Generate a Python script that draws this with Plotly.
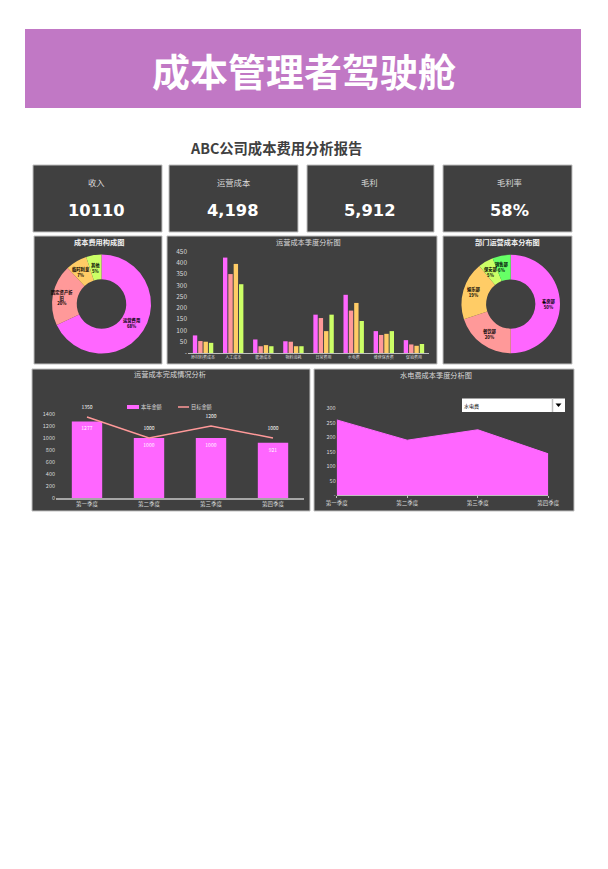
import plotly.graph_objects as go

W = 608
H = 869

FONT = 'Noto Sans CJK SC'
PINK = '#FF66FF'
ROSE = '#FF9999'
ORANGE = '#FFCC66'
LIME = '#CCFF66'
GREEN = '#66FF66'
PANEL = '#404040'

# KPI
kpi_labels = ['收入', '运营成本', '毛利', '毛利率']
kpi_values = ['10110', '4,198', '5,912', '58%']

# 环形图
cost_names = ['运营费用', '固定资产折<br>旧', '临时利息', '其他']
cost_values = [68, 20, 7, 5]
dept_names = ['客房部', '餐饮部', '娱乐部', '保安部', '销售部']
dept_values = [50, 20, 19, 5, 6]

# 季度柱状图
items = ['原材料费成本', '人工成本', '能源成本', '物料消耗', '日常费用', '水电费', '维修保养费', '促销费用']
q1 = [78, 423, 60, 52, 170, 258, 97, 57]
q2 = [53, 350, 30, 50, 155, 188, 80, 38]
q3 = [50, 395, 35, 30, 97, 222, 85, 32]
q4 = [45, 305, 30, 30, 170, 142, 97, 40]
bar_ticks = [0, 50, 100, 150, 200, 250, 300, 350, 400, 450]
bar_ticktext = ['-', '50', '100', '150', '200', '250', '300', '350', '400', '450']

# 完成情况
quarters = ['第一季度', '第二季度', '第三季度', '第四季度']
actual = [1277, 1000, 1000, 921]
target = [1350, 1000, 1200, 1000]
combo_ticks = [0, 200, 400, 600, 800, 1000, 1200, 1400]

# 水电费
water = [260, 190, 226, 143]
water_ticks = [0, 50, 100, 150, 200, 250, 300]
water_ticktext = ['-', '50', '100', '150', '200', '250', '300']


def fx(x):
    return x / W


def fy(y):
    return 1 - y / H


def panel(x0, y0, x1, y1, color=PANEL, line='#BFBFBF', width=1):
    return dict(type='rect', xref='paper', yref='paper', x0=fx(x0), x1=fx(x1), y0=fy(y0), y1=fy(y1),
                fillcolor=color, line=dict(color=line, width=width), layer='below')


def label(x, y, text, size, color='#D9D9D9', family=FONT):
    return dict(xref='paper', yref='paper', x=fx(x), y=fy(y), text=text, showarrow=False,
                xanchor='center', yanchor='middle', font=dict(family=family, size=size, color=color))


def donut(names, values, colors, x0, y0, x1, y1):
    return go.Pie(labels=names, values=values, hole=0.5, sort=False, direction='clockwise', rotation=0,
                  domain=dict(x=[fx(x0), fx(x1)], y=[fy(y1), fy(y0)]),
                  marker=dict(colors=colors, line=dict(width=0)),
                  textinfo='none', showlegend=False)


fig = go.Figure()

fig.add_trace(donut(cost_names, cost_values, [PINK, ROSE, ORANGE, LIME], 52, 254.5, 151, 353.5))
fig.add_trace(donut(dept_names, dept_values, [PINK, ROSE, ORANGE, LIME, GREEN], 461.5, 254.5, 560, 353.5))

for vals, col in zip([q1, q2, q3, q4], [PINK, ROSE, ORANGE, LIME]):
    fig.add_trace(go.Bar(x=items, y=vals, marker=dict(color=col, line=dict(width=0)), showlegend=False,
                         xaxis='x', yaxis='y'))

fig.add_trace(go.Bar(x=quarters, y=actual, name='本年金额', marker=dict(color=PINK, line=dict(width=0)),
                     width=0.49, text=actual, textposition='inside', insidetextanchor='end', showlegend=False,
                     textfont=dict(family=FONT, size=5, color='#FFFFFF'), xaxis='x2', yaxis='y2'))
fig.add_trace(go.Scatter(x=quarters, y=target, name='目标金额', mode='lines+text', line=dict(color=ROSE, width=1.5),
                         text=target, texttemplate='%{text}<br> ', textposition='top center', cliponaxis=False,
                         showlegend=False, textfont=dict(family=FONT, size=5, color='#FFFFFF'),
                         xaxis='x2', yaxis='y2'))

fig.add_trace(go.Scatter(x=quarters, y=water, mode='lines', fill='tozeroy', fillcolor=PINK,
                         line=dict(color=PINK, width=1), showlegend=False, xaxis='x3', yaxis='y3'))

shapes = [
    panel(25, 29, 581, 108, '#C178C5', '#C178C5', 0),
    panel(33, 165, 162, 232),
    panel(169, 165, 298, 232),
    panel(307, 165, 434, 232),
    panel(443, 165, 572, 232),
    panel(34, 236, 162, 364),
    panel(167, 236, 437, 364),
    panel(443, 236, 572, 364),
    panel(32, 369, 310, 511),
    panel(314, 369, 574, 511),
    # 图例
    dict(type='rect', xref='paper', yref='paper', x0=fx(127), x1=fx(139), y0=fy(405), y1=fy(409),
         fillcolor=PINK, line=dict(width=0), layer='above'),
    dict(type='line', xref='paper', yref='paper', x0=fx(178), x1=fx(189), y0=fy(407), y1=fy(407),
         line=dict(color=ROSE, width=1.5), layer='above'),
    # 下拉框
    dict(type='rect', xref='paper', yref='paper', x0=fx(462), x1=fx(565), y0=fy(398.5), y1=fy(412),
         fillcolor='#FFFFFF', line=dict(width=0), layer='above'),
    dict(type='line', xref='paper', yref='paper', x0=fx(552.5), x1=fx(552.5), y0=fy(398.5), y1=fy(412),
         line=dict(color='#BFBFBF', width=1.5), layer='above'),
    dict(type='path', xref='paper', yref='paper',
         path=f'M {fx(555.5)} {fy(403.5)} L {fx(561.5)} {fy(403.5)} L {fx(558.5)} {fy(407)} Z',
         fillcolor='#000000', line=dict(width=0), layer='above'),
]

annotations = [
    label(304, 69, '<b>成本管理者驾驶舱</b>', 38, '#FFFFFF'),
    label(275.5, 148, '<b>ABC公司成本费用分析报告</b>', 14.3, '#404040'),
    label(98.7, 242.3, '<b>成本费用构成图</b>', 7.2, '#F2F2F2'),
    label(308.5, 242.3, '运营成本季度分析图', 7.2),
    label(507.3, 242.3, '<b>部门运营成本分布图</b>', 7.2, '#F2F2F2'),
    label(169.7, 374.5, '运营成本完成情况分析', 7.2),
    label(436, 375, '水电费成本季度分析图', 7.2),
    label(151.5, 407, '本年金额', 5.2),
    label(202.5, 407, '目标金额', 5.2),
    label(471.5, 405.5, '水电费', 5, '#000000'),
]
for (name, val, cx) in zip(kpi_labels, kpi_values, [96.5, 233, 369.5, 509.5]):
    annotations.append(label(cx, 181.5, name, 8.3))
    annotations.append(label(cx, 210.5, '<b>' + val + '</b>', 16.3, '#FFFFFF', 'DejaVu Sans'))

# 环形图标签
for name, val, cx, cy in zip(cost_names, cost_values, [131, 61.5, 81, 95.5], [323, 297, 272, 267.5]):
    annotations.append(label(cx, cy, f'<b>{name}<br>{val}%</b>', 4.3, '#000000'))
for name, val, cx, cy in zip(dept_names, dept_values, [549, 490, 474, 491, 502], [304, 334, 292, 272, 267]):
    annotations.append(label(cx, cy, f'<b>{name}<br>{val}%</b>', 4.3, '#000000'))

fig.update_layout(
    width=W,
    height=H,
    margin=dict(l=0, r=0, t=0, b=0, autoexpand=False),
    paper_bgcolor='#FFFFFF',
    plot_bgcolor='rgba(0,0,0,0)',
    barmode='group',
    bargap=0.29,
    bargroupgap=0.18,
    shapes=shapes,
    annotations=annotations,
    font=dict(family=FONT, color='#D9D9D9'),
    xaxis=dict(domain=[fx(188), fx(429)], tickfont=dict(size=4), tickangle=0, showgrid=False, ticks='',
               showline=True, linecolor='#BFBFBF', linewidth=1, anchor='y'),
    yaxis=dict(domain=[fy(353), fy(251.5)], range=[0, 450], tickvals=bar_ticks, ticktext=bar_ticktext,
               tickfont=dict(size=6.5), showgrid=False, zeroline=False, anchor='x'),
    xaxis2=dict(domain=[fx(56), fx(304)], tickfont=dict(size=5.5), tickangle=0, showgrid=False, ticks='',
                showline=True, linecolor='#A6A6A6', linewidth=1.5, anchor='y2'),
    yaxis2=dict(domain=[fy(498), fy(414)], range=[0, 1400], tickvals=combo_ticks,
                tickfont=dict(size=5.5), showgrid=False, zeroline=False, anchor='x2'),
    xaxis3=dict(domain=[fx(336.7), fx(548.3)], range=[0, 3], type='category', tickfont=dict(size=5.5),
                tickangle=0, showgrid=False, ticks='outside', ticklen=2, tickcolor='#BFBFBF',
                showline=True, linecolor='#BFBFBF', linewidth=1, anchor='y3'),
    yaxis3=dict(domain=[fy(495.3), fy(408.3)], range=[0, 300], tickvals=water_ticks, ticktext=water_ticktext,
                tickfont=dict(size=5.5), showgrid=False, zeroline=False, anchor='x3'),
)

fig.write_html("out.html", config=dict(displayModeBar=False), post_script="document.body.style.margin='0';")
